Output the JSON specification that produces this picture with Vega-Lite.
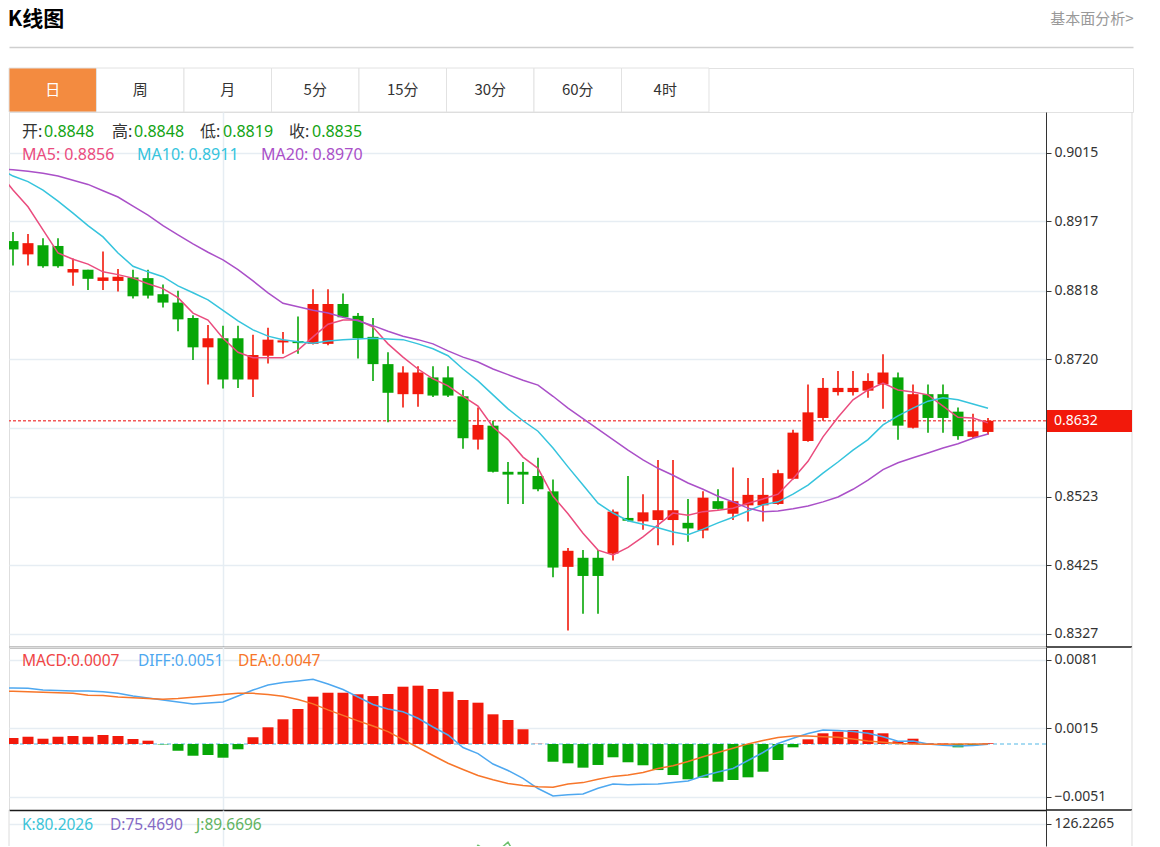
{
  "$schema": "https://vega.github.io/schema/vega-lite/v6.json",
  "background": "#ffffff",
  "padding": {"left": 7, "top": 8, "right": 0, "bottom": 0},
  "config": {
    "font": "Noto Sans, Noto Sans CJK SC",
    "view": {"stroke": null},
    "axis": {"labelFont": "Noto Sans", "labelFontSize": 14, "labelColor": "#333333", "gridColor": "#e6edf3", "gridWidth": 1.5, "domainColor": "#333333", "tickColor": "#333333"}
  },
  "title": {"text": "K线图", "anchor": "start", "font": "Noto Sans CJK SC", "fontSize": 21, "fontWeight": "bold", "color": "#000000", "offset": -19},
  "spacing": 0,
  "bounds": "flush",
  "datasets": {
    "k": [
      {"i":0,"open":0.8889,"high":0.8902,"low":0.8854,"close":0.8877},
      {"i":1,"open":0.8870,"high":0.8899,"low":0.8854,"close":0.8886},
      {"i":2,"open":0.8883,"high":0.8893,"low":0.8851,"close":0.8853},
      {"i":3,"open":0.8882,"high":0.8893,"low":0.8851,"close":0.8853},
      {"i":4,"open":0.8844,"high":0.8864,"low":0.8825,"close":0.8849},
      {"i":5,"open":0.8848,"high":0.8848,"low":0.8819,"close":0.8835},
      {"i":6,"open":0.8832,"high":0.8874,"low":0.8819,"close":0.8837},
      {"i":7,"open":0.8832,"high":0.8849,"low":0.8817,"close":0.8838},
      {"i":8,"open":0.8837,"high":0.8848,"low":0.8807,"close":0.8810},
      {"i":9,"open":0.8836,"high":0.8848,"low":0.8807,"close":0.8811},
      {"i":10,"open":0.8813,"high":0.8827,"low":0.8794,"close":0.8801},
      {"i":11,"open":0.8801,"high":0.8818,"low":0.8760,"close":0.8777},
      {"i":12,"open":0.8779,"high":0.8783,"low":0.8719,"close":0.8737},
      {"i":13,"open":0.8737,"high":0.8769,"low":0.8684,"close":0.8750},
      {"i":14,"open":0.8750,"high":0.8768,"low":0.8678,"close":0.8691},
      {"i":15,"open":0.8750,"high":0.8768,"low":0.8679,"close":0.8691},
      {"i":16,"open":0.8691,"high":0.8755,"low":0.8666,"close":0.8726},
      {"i":17,"open":0.8725,"high":0.8765,"low":0.8714,"close":0.8748},
      {"i":18,"open":0.8744,"high":0.8759,"low":0.8728,"close":0.8747},
      {"i":19,"open":0.8746,"high":0.8781,"low":0.8728,"close":0.8743},
      {"i":20,"open":0.8742,"high":0.8820,"low":0.8741,"close":0.8799},
      {"i":21,"open":0.8742,"high":0.8820,"low":0.8740,"close":0.8799},
      {"i":22,"open":0.8799,"high":0.8814,"low":0.8779,"close":0.8780},
      {"i":23,"open":0.8782,"high":0.8786,"low":0.8721,"close":0.8750},
      {"i":24,"open":0.8752,"high":0.8779,"low":0.8689,"close":0.8713},
      {"i":25,"open":0.8713,"high":0.8730,"low":0.8630,"close":0.8672},
      {"i":26,"open":0.8670,"high":0.8710,"low":0.8651,"close":0.8701},
      {"i":27,"open":0.8670,"high":0.8710,"low":0.8652,"close":0.8701},
      {"i":28,"open":0.8694,"high":0.8710,"low":0.8666,"close":0.8668},
      {"i":29,"open":0.8694,"high":0.8710,"low":0.8666,"close":0.8668},
      {"i":30,"open":0.8667,"high":0.8676,"low":0.8592,"close":0.8607},
      {"i":31,"open":0.8605,"high":0.8651,"low":0.8591,"close":0.8626},
      {"i":32,"open":0.8625,"high":0.8632,"low":0.8558,"close":0.8559},
      {"i":33,"open":0.8559,"high":0.8573,"low":0.8513,"close":0.8555},
      {"i":34,"open":0.8559,"high":0.8573,"low":0.8513,"close":0.8555},
      {"i":35,"open":0.8553,"high":0.8579,"low":0.8531,"close":0.8534},
      {"i":36,"open":0.8531,"high":0.8548,"low":0.8408,"close":0.8422},
      {"i":37,"open":0.8423,"high":0.8450,"low":0.8332,"close":0.8446},
      {"i":38,"open":0.8436,"high":0.8447,"low":0.8356,"close":0.8410},
      {"i":39,"open":0.8436,"high":0.8447,"low":0.8356,"close":0.8410},
      {"i":40,"open":0.8442,"high":0.8505,"low":0.8432,"close":0.8502},
      {"i":41,"open":0.8493,"high":0.8553,"low":0.8488,"close":0.8489},
      {"i":42,"open":0.8488,"high":0.8527,"low":0.8476,"close":0.8501},
      {"i":43,"open":0.8490,"high":0.8576,"low":0.8454,"close":0.8504},
      {"i":44,"open":0.8490,"high":0.8576,"low":0.8454,"close":0.8504},
      {"i":45,"open":0.8486,"high":0.8520,"low":0.8459,"close":0.8478},
      {"i":46,"open":0.8475,"high":0.8531,"low":0.8464,"close":0.8522},
      {"i":47,"open":0.8517,"high":0.8534,"low":0.8505,"close":0.8506},
      {"i":48,"open":0.8499,"high":0.8565,"low":0.8490,"close":0.8517},
      {"i":49,"open":0.8511,"high":0.8550,"low":0.8488,"close":0.8526},
      {"i":50,"open":0.8511,"high":0.8550,"low":0.8488,"close":0.8526},
      {"i":51,"open":0.8513,"high":0.8562,"low":0.8512,"close":0.8557},
      {"i":52,"open":0.8549,"high":0.8619,"low":0.8548,"close":0.8615},
      {"i":53,"open":0.8603,"high":0.8684,"low":0.8602,"close":0.8644},
      {"i":54,"open":0.8636,"high":0.8693,"low":0.8632,"close":0.8679},
      {"i":55,"open":0.8673,"high":0.8703,"low":0.8668,"close":0.8679},
      {"i":56,"open":0.8673,"high":0.8703,"low":0.8668,"close":0.8679},
      {"i":57,"open":0.8675,"high":0.8700,"low":0.8665,"close":0.8689},
      {"i":58,"open":0.8684,"high":0.8727,"low":0.8649,"close":0.8701},
      {"i":59,"open":0.8694,"high":0.8701,"low":0.8605,"close":0.8625},
      {"i":60,"open":0.8622,"high":0.8684,"low":0.8621,"close":0.8670},
      {"i":61,"open":0.8670,"high":0.8684,"low":0.8615,"close":0.8636},
      {"i":62,"open":0.8670,"high":0.8684,"low":0.8615,"close":0.8636},
      {"i":63,"open":0.8645,"high":0.8651,"low":0.8605,"close":0.8610},
      {"i":64,"open":0.8609,"high":0.8642,"low":0.8607,"close":0.8617},
      {"i":65,"open":0.8616,"high":0.8636,"low":0.8612,"close":0.8632}
    ],
    "ma": [
      {"i":-1,"ma5":0.8989,"ma10":0.8994,"ma20":0.8992},
      {"i":0,"ma5":0.8962,"ma10":0.8982,"ma20":0.8991},
      {"i":1,"ma5":0.8938,"ma10":0.8974,"ma20":0.8989},
      {"i":2,"ma5":0.8905,"ma10":0.8962,"ma20":0.8986},
      {"i":3,"ma5":0.8872,"ma10":0.8946,"ma20":0.8982},
      {"i":4,"ma5":0.8863,"ma10":0.8929,"ma20":0.8976},
      {"i":5,"ma5":0.8856,"ma10":0.8911,"ma20":0.8970},
      {"i":6,"ma5":0.8845,"ma10":0.8895,"ma20":0.8961},
      {"i":7,"ma5":0.8841,"ma10":0.8872,"ma20":0.8952},
      {"i":8,"ma5":0.8836,"ma10":0.8853,"ma20":0.8939},
      {"i":9,"ma5":0.8828,"ma10":0.8845,"ma20":0.8926},
      {"i":10,"ma5":0.8821,"ma10":0.8838,"ma20":0.8911},
      {"i":11,"ma5":0.8808,"ma10":0.8825,"ma20":0.8898},
      {"i":12,"ma5":0.8786,"ma10":0.8815,"ma20":0.8885},
      {"i":13,"ma5":0.8776,"ma10":0.8805,"ma20":0.8873},
      {"i":14,"ma5":0.8750,"ma10":0.8790,"ma20":0.8862},
      {"i":15,"ma5":0.8730,"ma10":0.8775,"ma20":0.8848},
      {"i":16,"ma5":0.8722,"ma10":0.8762,"ma20":0.8832},
      {"i":17,"ma5":0.8722,"ma10":0.8753,"ma20":0.8815},
      {"i":18,"ma5":0.8722,"ma10":0.8748,"ma20":0.8800},
      {"i":19,"ma5":0.8733,"ma10":0.8745,"ma20":0.8795},
      {"i":20,"ma5":0.8752,"ma10":0.8743,"ma20":0.8790},
      {"i":21,"ma5":0.8770,"ma10":0.8746,"ma20":0.8786},
      {"i":22,"ma5":0.8776,"ma10":0.8748,"ma20":0.8780},
      {"i":23,"ma5":0.8776,"ma10":0.8749,"ma20":0.8775},
      {"i":24,"ma5":0.8766,"ma10":0.8750,"ma20":0.8768},
      {"i":25,"ma5":0.8742,"ma10":0.8749,"ma20":0.8760},
      {"i":26,"ma5":0.8723,"ma10":0.8748,"ma20":0.8753},
      {"i":27,"ma5":0.8706,"ma10":0.8742,"ma20":0.8748},
      {"i":28,"ma5":0.8692,"ma10":0.8735,"ma20":0.8742},
      {"i":29,"ma5":0.8682,"ma10":0.8725,"ma20":0.8732},
      {"i":30,"ma5":0.8667,"ma10":0.8706,"ma20":0.8723},
      {"i":31,"ma5":0.8653,"ma10":0.8689,"ma20":0.8716},
      {"i":32,"ma5":0.8623,"ma10":0.8669,"ma20":0.8706},
      {"i":33,"ma5":0.8605,"ma10":0.8649,"ma20":0.8698},
      {"i":34,"ma5":0.8580,"ma10":0.8632,"ma20":0.8690},
      {"i":35,"ma5":0.8564,"ma10":0.8617,"ma20":0.8683},
      {"i":36,"ma5":0.8524,"ma10":0.8593,"ma20":0.8667},
      {"i":37,"ma5":0.8499,"ma10":0.8566,"ma20":0.8650},
      {"i":38,"ma5":0.8471,"ma10":0.8540,"ma20":0.8635},
      {"i":39,"ma5":0.8447,"ma10":0.8514,"ma20":0.8620},
      {"i":40,"ma5":0.8440,"ma10":0.8500,"ma20":0.8605},
      {"i":41,"ma5":0.8451,"ma10":0.8489,"ma20":0.8590},
      {"i":42,"ma5":0.8466,"ma10":0.8484,"ma20":0.8576},
      {"i":43,"ma5":0.8483,"ma10":0.8479,"ma20":0.8564},
      {"i":44,"ma5":0.8500,"ma10":0.8473,"ma20":0.8554},
      {"i":45,"ma5":0.8497,"ma10":0.8469,"ma20":0.8543},
      {"i":46,"ma5":0.8502,"ma10":0.8477,"ma20":0.8534},
      {"i":47,"ma5":0.8504,"ma10":0.8486,"ma20":0.8524},
      {"i":48,"ma5":0.8507,"ma10":0.8494,"ma20":0.8516},
      {"i":49,"ma5":0.8514,"ma10":0.8503,"ma20":0.8507},
      {"i":50,"ma5":0.8520,"ma10":0.8512,"ma20":0.8502},
      {"i":51,"ma5":0.8527,"ma10":0.8516,"ma20":0.8503},
      {"i":52,"ma5":0.8549,"ma10":0.8527,"ma20":0.8506},
      {"i":53,"ma5":0.8574,"ma10":0.8540,"ma20":0.8510},
      {"i":54,"ma5":0.8609,"ma10":0.8557,"ma20":0.8516},
      {"i":55,"ma5":0.8637,"ma10":0.8573,"ma20":0.8523},
      {"i":56,"ma5":0.8662,"ma10":0.8590,"ma20":0.8534},
      {"i":57,"ma5":0.8676,"ma10":0.8605,"ma20":0.8547},
      {"i":58,"ma5":0.8686,"ma10":0.8626,"ma20":0.8562},
      {"i":59,"ma5":0.8676,"ma10":0.8639,"ma20":0.8572},
      {"i":60,"ma5":0.8673,"ma10":0.8650,"ma20":0.8579},
      {"i":61,"ma5":0.8669,"ma10":0.8660,"ma20":0.8586},
      {"i":62,"ma5":0.8653,"ma10":0.8665,"ma20":0.8593},
      {"i":63,"ma5":0.8637,"ma10":0.8662,"ma20":0.8599},
      {"i":64,"ma5":0.8636,"ma10":0.8656,"ma20":0.8607},
      {"i":65,"ma5":0.8629,"ma10":0.8650,"ma20":0.8613}
    ],
    "m": [
      {"i":-1,"diff":0.00540,"dea":0.00511},
      {"i":0,"macd":0.00058,"diff":0.00540,"dea":0.00508},
      {"i":1,"macd":0.00070,"diff":0.00537,"dea":0.00504},
      {"i":2,"macd":0.00051,"diff":0.00520,"dea":0.00499},
      {"i":3,"macd":0.00070,"diff":0.00515,"dea":0.00493},
      {"i":4,"macd":0.00077,"diff":0.00511,"dea":0.00488},
      {"i":5,"macd":0.00070,"diff":0.00510,"dea":0.00470},
      {"i":6,"macd":0.00087,"diff":0.00504,"dea":0.00467},
      {"i":7,"macd":0.00077,"diff":0.00488,"dea":0.00453},
      {"i":8,"macd":0.00048,"diff":0.00462,"dea":0.00445},
      {"i":9,"macd":0.00032,"diff":0.00443,"dea":0.00438},
      {"i":10,"macd":-0.00004,"diff":0.00424,"dea":0.00432},
      {"i":11,"macd":-0.00065,"diff":0.00405,"dea":0.00438},
      {"i":12,"macd":-0.00113,"diff":0.00385,"dea":0.00450},
      {"i":13,"macd":-0.00106,"diff":0.00395,"dea":0.00462},
      {"i":14,"macd":-0.00132,"diff":0.00405,"dea":0.00477},
      {"i":15,"macd":-0.00051,"diff":0.00462,"dea":0.00488},
      {"i":16,"macd":0.00065,"diff":0.00520,"dea":0.00488},
      {"i":17,"macd":0.00161,"diff":0.00568,"dea":0.00477},
      {"i":18,"macd":0.00238,"diff":0.00593,"dea":0.00460},
      {"i":19,"macd":0.00337,"diff":0.00607,"dea":0.00429},
      {"i":20,"macd":0.00456,"diff":0.00623,"dea":0.00387},
      {"i":21,"macd":0.00494,"diff":0.00578,"dea":0.00329},
      {"i":22,"macd":0.00494,"diff":0.00525,"dea":0.00276},
      {"i":23,"macd":0.00479,"diff":0.00453,"dea":0.00223},
      {"i":24,"macd":0.00462,"diff":0.00381,"dea":0.00173},
      {"i":25,"macd":0.00482,"diff":0.00337,"dea":0.00119},
      {"i":26,"macd":0.00552,"diff":0.00311,"dea":0.00042},
      {"i":27,"macd":0.00562,"diff":0.00248,"dea":-0.00034},
      {"i":28,"macd":0.00530,"diff":0.00164,"dea":-0.00111},
      {"i":29,"macd":0.00504,"diff":0.00087,"dea":-0.00185},
      {"i":30,"macd":0.00424,"diff":-0.00034,"dea":-0.00246},
      {"i":31,"macd":0.00398,"diff":-0.00093,"dea":-0.00304},
      {"i":32,"macd":0.00286,"diff":-0.00193,"dea":-0.00344},
      {"i":33,"macd":0.00231,"diff":-0.00255,"dea":-0.00380},
      {"i":34,"macd":0.00142,"diff":-0.00332,"dea":-0.00399},
      {"i":35,"macd":0.00002,"diff":-0.00429,"dea":-0.00413},
      {"i":36,"macd":-0.00171,"diff":-0.00501,"dea":-0.00416},
      {"i":37,"macd":-0.00186,"diff":-0.00488,"dea":-0.00385},
      {"i":38,"macd":-0.00228,"diff":-0.00482,"dea":-0.00372},
      {"i":39,"macd":-0.00202,"diff":-0.00427,"dea":-0.00340},
      {"i":40,"macd":-0.00128,"diff":-0.00385,"dea":-0.00312},
      {"i":41,"macd":-0.00176,"diff":-0.00392,"dea":-0.00299},
      {"i":42,"macd":-0.00205,"diff":-0.00388,"dea":-0.00275},
      {"i":43,"macd":-0.00251,"diff":-0.00385,"dea":-0.00237},
      {"i":44,"macd":-0.00299,"diff":-0.00371,"dea":-0.00209},
      {"i":45,"macd":-0.00340,"diff":-0.00356,"dea":-0.00169},
      {"i":46,"macd":-0.00325,"diff":-0.00308,"dea":-0.00122},
      {"i":47,"macd":-0.00363,"diff":-0.00270,"dea":-0.00082},
      {"i":48,"macd":-0.00347,"diff":-0.00236,"dea":-0.00041},
      {"i":49,"macd":-0.00321,"diff":-0.00159,"dea":0.00001},
      {"i":50,"macd":-0.00267,"diff":-0.00082,"dea":0.00034},
      {"i":51,"macd":-0.00154,"diff":0.00005,"dea":0.00062},
      {"i":52,"macd":-0.00032,"diff":0.00055,"dea":0.00078},
      {"i":53,"macd":0.00045,"diff":0.00101,"dea":0.00078},
      {"i":54,"macd":0.00103,"diff":0.00135,"dea":0.00071},
      {"i":55,"macd":0.00119,"diff":0.00129,"dea":0.00065},
      {"i":56,"macd":0.00135,"diff":0.00120,"dea":0.00048},
      {"i":57,"macd":0.00135,"diff":0.00104,"dea":0.00029},
      {"i":58,"macd":0.00103,"diff":0.00070,"dea":0.00016},
      {"i":59,"macd":0.00026,"diff":0.00026,"dea":0.00006},
      {"i":60,"macd":0.00051,"diff":0.00029,"dea":0.00001},
      {"i":61,"macd":0.00007,"diff":0.00000,"dea":-0.00003},
      {"i":62,"macd":0.00005,"diff":-0.00013,"dea":-0.00002},
      {"i":63,"macd":-0.00032,"diff":-0.00019,"dea":-0.00001},
      {"i":64,"macd":-0.00013,"diff":-0.00014,"dea":0.00000},
      {"i":65,"macd":0.00007,"diff":-0.00003,"dea":0.00000}
    ],
    "j": [
      {"i":30,"j":80},{"i":31,"j":105},{"i":32,"j":95},{"i":33,"j":108},{"i":34,"j":82}
    ]
  },
  "vconcat": [
    {
      "width": 1124, "height": 44,
      "view": {"stroke": "#e2e2e2", "strokeWidth": 1},
      "data": {"values": [
        {"tab":"日","on":true},{"tab":"周","on":false},{"tab":"月","on":false},{"tab":"5分","on":false},
        {"tab":"15分","on":false},{"tab":"30分","on":false},{"tab":"60分","on":false},{"tab":"4时","on":false}
      ]},
      "encoding": {
        "x": {"field": "tab", "type": "nominal", "sort": null,
          "scale": {"domain": ["日","周","月","5分","15分","30分","60分","4时","_1","_2","_3","_4"], "paddingInner": 0, "paddingOuter": 0.4231, "align": 0},
          "axis": {"orient": "top", "offset": 21, "domain": true, "domainColor": "#cfcfcf", "domainWidth": 1.5, "ticks": false, "labels": false, "grid": false,
            "title": "基本面分析>", "titleAnchor": "end", "titleAlign": "right", "titleBaseline": "bottom", "titleFont": "Noto Sans CJK SC", "titleFontSize": 15, "titleFontWeight": "normal", "titleColor": "#999999", "titlePadding": 21}}
      },
      "layer": [
        {"mark": {"type": "rect", "stroke": "#e2e2e2", "strokeWidth": 1},
         "encoding": {"fill": {"condition": {"test": "datum.on", "value": "#f38b40"}, "value": "#ffffff"}}},
        {"mark": {"type": "text", "font": "Noto Sans CJK SC", "fontSize": 15},
         "encoding": {"text": {"field": "tab"}, "color": {"condition": {"test": "datum.on", "value": "#ffffff"}, "value": "#333333"}}}
      ]
    },
    {
      "width": 1037, "height": 535,
      "view": {"stroke": "#dedede"},
      "layer": [
        {"data": {"values": [{}]},
         "mark": {"type": "rule", "color": "#f25a5a", "strokeDash": [3, 2], "strokeWidth": 1.5},
         "encoding": {"y": {"datum": 0.8632, "type": "quantitative", "scale": {"domain": [0.83084, 0.90736], "nice": false, "zero": false, "padding": 0}}}},
        {"data": {"name": "k"},
         "mark": {"type": "rule", "strokeWidth": 1.6, "clip": true},
         "encoding": {
           "x": {"field": "i", "type": "quantitative", "scale": {"domain": [-0.2667, 68.8667], "nice": false, "zero": false, "padding": 0},
             "axis": {"orient": "bottom", "values": [14], "grid": true, "labels": false, "ticks": false, "domain": true, "domainColor": "#1a1a1a", "domainWidth": 1.5, "title": null}},
           "y": {"field": "low", "type": "quantitative", "scale": {"domain": [0.83084, 0.90736], "nice": false, "zero": false, "padding": 0},
             "axis": {"orient": "right", "values": [0.9015, 0.8917, 0.8818, 0.872, 0.8622, 0.8523, 0.8425, 0.8327], "format": ".4f", "grid": true, "tickSize": 5, "labelPadding": 3, "title": null}},
           "y2": {"field": "high"},
           "color": {"condition": {"test": "datum.close >= datum.open", "value": "#f2190b"}, "value": "#07a707"}
         }},
        {"data": {"name": "k"},
         "mark": {"type": "bar", "width": 11, "clip": true},
         "encoding": {
           "x": {"field": "i", "type": "quantitative"},
           "y": {"field": "open", "type": "quantitative"},
           "y2": {"field": "close"},
           "color": {"condition": {"test": "datum.close >= datum.open", "value": "#f2190b"}, "value": "#07a707"}
         }},
        {"data": {"name": "ma"},
         "mark": {"type": "line", "color": "#ea4c7e", "strokeWidth": 1.5, "clip": true},
         "encoding": {"x": {"field": "i", "type": "quantitative"}, "y": {"field": "ma5", "type": "quantitative"}}},
        {"data": {"name": "ma"},
         "mark": {"type": "line", "color": "#36c4dd", "strokeWidth": 1.5, "clip": true},
         "encoding": {"x": {"field": "i", "type": "quantitative"}, "y": {"field": "ma10", "type": "quantitative"}}},
        {"data": {"name": "ma"},
         "mark": {"type": "line", "color": "#aa50c8", "strokeWidth": 1.5, "clip": true},
         "encoding": {"x": {"field": "i", "type": "quantitative"}, "y": {"field": "ma20", "type": "quantitative"}}},
        {"data": {"values": [{}]}, "mark": {"type": "text", "align": "left", "baseline": "middle", "fontSize": 16, "color": "#333333"},
         "encoding": {"x": {"datum": 0.6}, "y": {"datum": 0.9045}, "text": {"value": "开:"}}},
        {"data": {"values": [{}]}, "mark": {"type": "text", "align": "left", "baseline": "middle", "fontSize": 16, "color": "#13a313"},
         "encoding": {"x": {"datum": 2.067}, "y": {"datum": 0.9045}, "text": {"value": "0.8848"}}},
        {"data": {"values": [{}]}, "mark": {"type": "text", "align": "left", "baseline": "middle", "fontSize": 16, "color": "#333333"},
         "encoding": {"x": {"datum": 6.6}, "y": {"datum": 0.9045}, "text": {"value": "高:"}}},
        {"data": {"values": [{}]}, "mark": {"type": "text", "align": "left", "baseline": "middle", "fontSize": 16, "color": "#13a313"},
         "encoding": {"x": {"datum": 8.067}, "y": {"datum": 0.9045}, "text": {"value": "0.8848"}}},
        {"data": {"values": [{}]}, "mark": {"type": "text", "align": "left", "baseline": "middle", "fontSize": 16, "color": "#333333"},
         "encoding": {"x": {"datum": 12.467}, "y": {"datum": 0.9045}, "text": {"value": "低:"}}},
        {"data": {"values": [{}]}, "mark": {"type": "text", "align": "left", "baseline": "middle", "fontSize": 16, "color": "#13a313"},
         "encoding": {"x": {"datum": 14.0}, "y": {"datum": 0.9045}, "text": {"value": "0.8819"}}},
        {"data": {"values": [{}]}, "mark": {"type": "text", "align": "left", "baseline": "middle", "fontSize": 16, "color": "#333333"},
         "encoding": {"x": {"datum": 18.4}, "y": {"datum": 0.9045}, "text": {"value": "收:"}}},
        {"data": {"values": [{}]}, "mark": {"type": "text", "align": "left", "baseline": "middle", "fontSize": 16, "color": "#13a313"},
         "encoding": {"x": {"datum": 19.933}, "y": {"datum": 0.9045}, "text": {"value": "0.8835"}}},
        {"data": {"values": [{}]}, "mark": {"type": "text", "align": "left", "baseline": "middle", "fontSize": 16, "color": "#ea4c7e"},
         "encoding": {"x": {"datum": 0.6}, "y": {"datum": 0.90121}, "text": {"value": "MA5: 0.8856"}}},
        {"data": {"values": [{}]}, "mark": {"type": "text", "align": "left", "baseline": "middle", "fontSize": 16, "color": "#36c4dd"},
         "encoding": {"x": {"datum": 8.267}, "y": {"datum": 0.90121}, "text": {"value": "MA10: 0.8911"}}},
        {"data": {"values": [{}]}, "mark": {"type": "text", "align": "left", "baseline": "middle", "fontSize": 16, "color": "#aa50c8"},
         "encoding": {"x": {"datum": 16.533}, "y": {"datum": 0.90121}, "text": {"value": "MA20: 0.8970"}}},
        {"data": {"values": [{}]}, "mark": {"type": "rule", "color": "#dcdcdc", "strokeWidth": 1},
         "encoding": {"x": {"datum": 74.6}}},
        {"data": {"values": [{}]}, "mark": {"type": "rule", "color": "#1a1a1a", "strokeWidth": 1.5},
         "encoding": {"x": {"datum": 68.8667}, "x2": {"datum": 74.6}, "y": {"datum": 0.83084}}},
        {"data": {"values": [{}]}, "mark": {"type": "rect", "color": "#f2190b"},
         "encoding": {"x": {"datum": 68.93}, "x2": {"datum": 74.6}, "y": {"datum": 0.86474}, "y2": {"datum": 0.86159}}},
        {"data": {"values": [{}]}, "mark": {"type": "text", "align": "left", "baseline": "middle", "fontSize": 14, "font": "Noto Sans", "color": "#ffffff"},
         "encoding": {"x": {"datum": 69.4}, "y": {"datum": 0.8632}, "text": {"value": "0.8632"}}}
      ]
    },
    {
      "width": 1037, "height": 163,
      "view": {"stroke": "#dedede"},
      "layer": [
        {"data": {"values": [{}]},
         "mark": {"type": "rule", "color": "#8ccfee", "strokeDash": [4, 3], "strokeWidth": 1.5},
         "encoding": {"y": {"datum": 0, "type": "quantitative", "scale": {"domain": [-0.006359, 0.009346], "nice": false, "zero": false, "padding": 0}}}},
        {"data": {"name": "m"},
         "mark": {"type": "bar", "width": 11, "clip": true},
         "encoding": {
           "x": {"field": "i", "type": "quantitative", "scale": {"domain": [-0.2667, 68.8667], "nice": false, "zero": false, "padding": 0},
             "axis": {"orient": "bottom", "values": [14], "grid": true, "labels": false, "ticks": false, "domain": true, "domainColor": "#1a1a1a", "domainWidth": 1.5, "title": null}},
           "y": {"field": "macd", "type": "quantitative", "scale": {"domain": [-0.006359, 0.009346], "nice": false, "zero": false, "padding": 0},
             "axis": {"orient": "right", "values": [0.0081, 0.0015, -0.0051], "format": ".4f", "grid": true, "tickSize": 5, "labelPadding": 3, "title": null}},
           "y2": {"datum": 0},
           "color": {"condition": {"test": "datum.macd >= 0", "value": "#f2190b"}, "value": "#07a707"}
         }},
        {"data": {"name": "m"},
         "mark": {"type": "line", "color": "#4ea8f0", "strokeWidth": 1.5, "clip": true},
         "encoding": {"x": {"field": "i", "type": "quantitative"}, "y": {"field": "diff", "type": "quantitative"}}},
        {"data": {"name": "m"},
         "mark": {"type": "line", "color": "#f7762a", "strokeWidth": 1.5, "clip": true},
         "encoding": {"x": {"field": "i", "type": "quantitative"}, "y": {"field": "dea", "type": "quantitative"}}},
        {"data": {"values": [{}]}, "mark": {"type": "rule", "color": "#dcdcdc", "strokeWidth": 1},
         "encoding": {"x": {"datum": 74.6}}},
        {"data": {"values": [{}]}, "mark": {"type": "rule", "color": "#1a1a1a", "strokeWidth": 1.5},
         "encoding": {"x": {"datum": 68.8667}, "x2": {"datum": 74.6}, "y": {"datum": -0.006359}}},
        {"data": {"values": [{}]}, "mark": {"type": "text", "align": "left", "baseline": "middle", "fontSize": 15.5, "color": "#f04545"},
         "encoding": {"x": {"datum": 0.6}, "y": {"datum": 0.0080}, "text": {"value": "MACD:0.0007"}}},
        {"data": {"values": [{}]}, "mark": {"type": "text", "align": "left", "baseline": "middle", "fontSize": 15.5, "color": "#4ea8f0"},
         "encoding": {"x": {"datum": 8.333}, "y": {"datum": 0.0080}, "text": {"value": "DIFF:0.0051"}}},
        {"data": {"values": [{}]}, "mark": {"type": "text", "align": "left", "baseline": "middle", "fontSize": 15.5, "color": "#f7762a"},
         "encoding": {"x": {"datum": 15.0}, "y": {"datum": 0.0080}, "text": {"value": "DEA:0.0047"}}}
      ]
    },
    {
      "width": 1037, "height": 36,
      "layer": [
        {"data": {"name": "j"},
         "mark": {"type": "line", "color": "#6cbf6c", "strokeWidth": 1.5, "clip": true},
         "encoding": {
           "x": {"field": "i", "type": "quantitative", "scale": {"domain": [-0.2667, 68.8667], "nice": false, "zero": false, "padding": 0},
             "axis": {"orient": "bottom", "values": [14], "grid": true, "labels": false, "ticks": false, "domain": false, "title": null}},
           "y": {"field": "j", "type": "quantitative", "scale": {"domain": [104.2, 140.2], "nice": false, "zero": false, "padding": 0},
             "axis": {"orient": "right", "values": [126.2265], "format": ".4f", "grid": true, "tickSize": 5, "labelPadding": 3, "title": null}}
         }},
        {"data": {"values": [{}]}, "mark": {"type": "rule", "color": "#dcdcdc", "strokeWidth": 1},
         "encoding": {"x": {"datum": 74.6}}},
        {"data": {"values": [{}]}, "mark": {"type": "rule", "color": "#dcdcdc", "strokeWidth": 1},
         "encoding": {"x": {"datum": -0.2667}}},
        {"data": {"values": [{}]}, "mark": {"type": "text", "align": "left", "baseline": "middle", "fontSize": 15.5, "color": "#3cc4d8"},
         "encoding": {"x": {"datum": 0.6}, "y": {"datum": 125.2}, "text": {"value": "K:80.2026"}}},
        {"data": {"values": [{}]}, "mark": {"type": "text", "align": "left", "baseline": "middle", "fontSize": 15.5, "color": "#8569c4"},
         "encoding": {"x": {"datum": 6.467}, "y": {"datum": 125.2}, "text": {"value": "D:75.4690"}}},
        {"data": {"values": [{}]}, "mark": {"type": "text", "align": "left", "baseline": "middle", "fontSize": 15.5, "color": "#62b362"},
         "encoding": {"x": {"datum": 12.2}, "y": {"datum": 125.2}, "text": {"value": "J:89.6696"}}}
      ]
    }
  ]
}
